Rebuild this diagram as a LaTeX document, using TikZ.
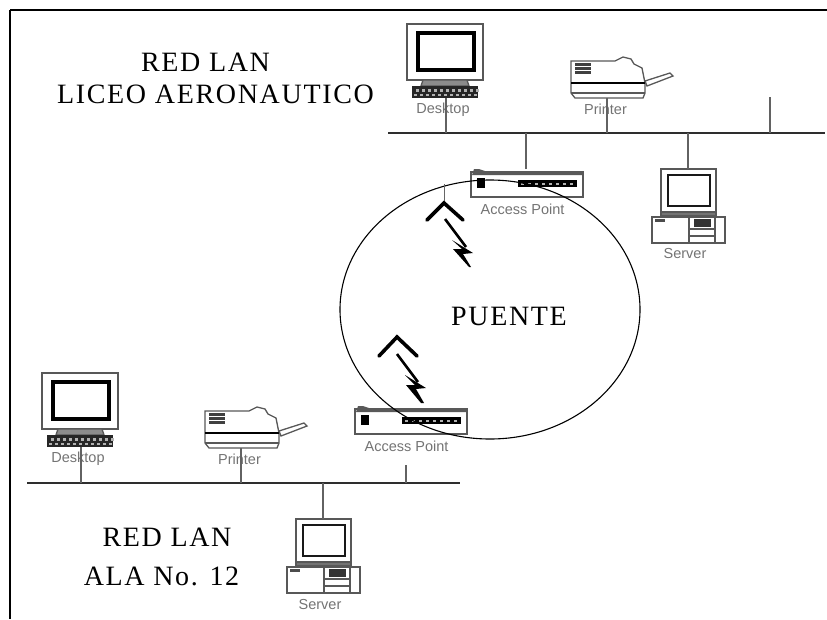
\documentclass[tikz,border=0pt]{standalone}
\usepackage{fontspec}
\setmainfont{Liberation Sans}
\newfontfamily\titlefont[LetterSpace=6]{Liberation Serif}
\newfontfamily\titlefontB[LetterSpace=1]{Liberation Serif}
\usetikzlibrary{shapes.geometric}
\definecolor{ink}{gray}{0.18}
\tikzset{
  x=1pt,y=-1pt,
  frameline/.style={black,line width=1.2pt},
  busline/.style={ink,line width=1.4pt},
  linkline/.style={ink!75,line width=1.7pt},
  devline/.style={ink!80,line width=1.3pt},
  devlabel/.style={text=black!55,font=\fontsize{14.5}{14.5}\selectfont,inner sep=0pt},
  titletext/.style={font=\titlefont\fontsize{28}{28}\selectfont,inner sep=0pt,text=black},
  chevron/.style={black,line width=3.6pt,line cap=round,line join=miter},
  boltline/.style={black,line width=2.6pt,line join=miter},
  pics/desktop/.style={code={
    \draw[devline,fill=white] (0,0) rectangle (76,56);
    \draw[black,line width=4pt] (10.5,9) rectangle (67,46);
    \draw[devline,fill=black!45] (16,56) -- (60,56) -- (62,62) -- (14,62) -- cycle;
    \fill[black!85] (5,62) rectangle (71,74);
    \foreach \k in {9,15,...,69}{\fill[white!70!black] (\k,65) rectangle +(2.5,2.5);\fill[white!70!black] (\k-2,70) rectangle +(2.5,2);}
    \coordinate (-port) at (39,74);
    \node[devlabel] (-label) at (36,85.5) {Desktop};
  }},
  pics/printer/.style={code={
    \draw[devline,fill=white] (0,1) -- (44,1) -- (52,-3) -- (60,-1) -- (63,4) -- (71,8) -- (74,23) -- (74,33) -- (72,38) -- (4,38) -- (0,33) -- cycle;
    \draw[black,line width=1.2pt] (0,23) -- (74,23);
    \draw[devline] (0,33) -- (74,33);
    \foreach \k in {3,7,11}{\fill[black!75] (4,\k) rectangle (20,\k+2.5);}
    \draw[devline,fill=white] (74,21) -- (99,13) -- (102,16) -- (76,26) -- cycle;
    \coordinate (-port) at (36,38);
    \node[devlabel] (-label) at (34.5,49) {Printer};
  }},
  pics/accesspoint/.style={code={
    \draw[devline,fill=white] (0,3) rectangle (112,28);
    \fill[black!65] (3,0) -- (8,0) -- (14,2) -- (111,2) -- (111,6) -- (1,6) -- cycle;
    \fill[black] (6,9) rectangle (14,19);
    \fill[black] (47,11) rectangle (106,18);
    \foreach \k in {50,57,...,104}{\fill[white!70!black] (\k,13.5) rectangle +(2.5,2.5);}
    \coordinate (-port) at (55,0);
    \node[devlabel] (-label) at (51.5,40.5) {Access Point};
  }},
  pics/serverbox/.style={code={
    \draw[devline,fill=white] (0,0) rectangle (55,44);
    \draw[black!90,line width=2.4pt] (7,6) rectangle (49,37);
    \draw[devline,fill=black!55] (0,43) rectangle (55,47);
    \draw[devline,fill=white] (-9,48) rectangle (64,74);
    \draw[devline] (28,48) -- (28,74) (54,48) -- (54,74) (28,60) -- (54,60) (28,67) -- (54,67);
    \fill[black!80] (33,50) rectangle (50,58);
    \fill[black!70] (-6,50) rectangle (4,52.5);
    \coordinate (-port) at (27,0);
    \node[devlabel] (-label) at (24,85) {Server};
  }},
}
\begin{document}
\begin{tikzpicture}
\useasboundingbox (0,0) rectangle (827,619);
% frame
\coordinate (frameTL) at (10,10);
\coordinate (frameTR) at (827,10);
\coordinate (frameBL) at (10,619);
\draw[frameline] (frameTR) -- (frameTL);
\draw[black,line width=2pt] (frameTL) -- (frameBL);
% buses
\coordinate (busAw) at (388,133);
\coordinate (busAe) at (825,133);
\coordinate (busBw) at (27,483);
\coordinate (busBe) at (460,483);
% devices
\pic (dA) at (407,24) {desktop};
\pic (pA) at (571,60) {printer};
\pic (apA) at (471,169) {accesspoint};
\pic (sA) at (661,169) {serverbox};
\pic (dB) at (42,373) {desktop};
\pic (pB) at (205,410) {printer};
\pic (apB) at (355,406) {accesspoint};
\pic (sB) at (296,519) {serverbox};
% bus lines and links
\draw[busline] (busAw) -- (busAe);
\draw[busline] (busBw) -- (busBe);
\draw[linkline] (dA-port) -- (dA-port |- busAw);
\draw[linkline] (pA-port) -- (pA-port |- busAw);
\draw[linkline] (apA-port) -- (apA-port |- busAw);
\draw[linkline] (sA-port) -- (sA-port |- busAw);
\coordinate (stubA) at (770,97);
\draw[linkline] (stubA) -- (stubA |- busAw);
\draw[linkline] (dB-port) -- (dB-port |- busBw);
\draw[linkline] (pB-port) -- (pB-port |- busBw);
\draw[linkline] (sB-port) -- (sB-port |- busBw);
\coordinate (stubB) at (406,465);
\draw[linkline] (stubB) -- (stubB |- busBw);
% bridge ellipse
\node[ellipse,draw=black,line width=1.1pt,minimum width=300pt,minimum height=259pt,inner sep=0pt] (puente) at (490,309.5) {};
% antennas
\coordinate (mastA) at (444,184);
\coordinate (apexA) at (444,203);
\draw[black!60,line width=1pt] (mastA) -- (apexA);
\draw[chevron] (427,220) -- (apexA) -- (463,220);
\draw[boltline] (445,219) -- (466,247);
\fill[black] (452,240) -- (473,253) -- (463,254) -- (471,267) -- (469,267) -- (453,249) -- (462,249) -- cycle;
\coordinate (apexB) at (397,337);
\draw[chevron] (379,356) -- (apexB) -- (417,356);
\draw[boltline] (397,354) -- (418,382);
\fill[black] (405,375) -- (426,388) -- (416,389) -- (424,403) -- (421,403) -- (406,385) -- (415,385) -- cycle;
% titles
\node[titletext] (t1) at (205.5,62) {RED LAN};
\node[titletext] (t2) at (215.5,94) {LICEO AERONAUTICO};
\node[titletext] (t3) at (509,316) {PUENTE};
\node[titletext] (t4) at (167,537) {RED LAN};
\node[titletext] (t5) at (161.5,576) {ALA No. 12};
\end{tikzpicture}
\end{document}
